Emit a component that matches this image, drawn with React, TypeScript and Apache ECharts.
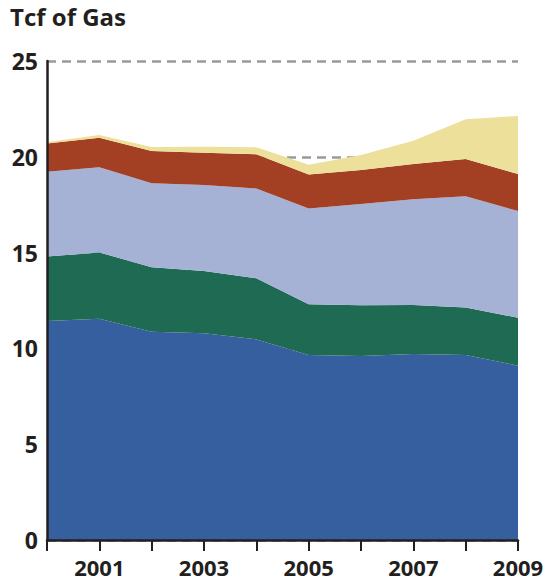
import React, { useEffect, useRef } from "react";
import * as echarts from "echarts";

const years = ["2000", "2001", "2002", "2003", "2004", "2005", "2006", "2007", "2008", "2009"];
const seriesNames = ["Series A", "Series B", "Series C", "Series D", "Series E"];
const seriesA = [11.43, 11.55, 10.87, 10.79, 10.47, 9.66, 9.6, 9.71, 9.66, 9.1];
const seriesB = [3.36, 3.46, 3.36, 3.25, 3.19, 2.64, 2.65, 2.55, 2.48, 2.5];
const seriesC = [4.43, 4.44, 4.39, 4.49, 4.69, 5.0, 5.29, 5.52, 5.8, 5.57];
const seriesD = [1.48, 1.55, 1.68, 1.68, 1.78, 1.77, 1.77, 1.84, 1.95, 1.93];
const seriesE = [0.07, 0.14, 0.21, 0.32, 0.37, 0.52, 0.78, 1.22, 2.07, 3.03];
const colors = ["#365f9f", "#1e6a52", "#a5b2d5", "#a34024", "#ece09a"];
const yTicks = [0, 5, 10, 15, 20, 25];

export default function App() {
  const ref = useRef<HTMLDivElement>(null);
  useEffect(() => {
    if (!ref.current) return;
    const chart = echarts.init(ref.current, null, { renderer: "svg" });
    const data = [seriesA, seriesB, seriesC, seriesD, seriesE];
    const font = "'Open Sans', 'Noto Sans', sans-serif";
    const ink = "#231f20";
    chart.setOption({
      animation: false,
      title: {
        text: "Tcf of Gas",
        left: 10,
        top: 4,
        padding: 0,
        textStyle: { fontFamily: font, fontWeight: "bold", fontSize: 24, color: ink },
      },
      grid: { left: 47, right: 30, top: 61, bottom: 43 },
      xAxis: {
        type: "category",
        data: years,
        boundaryGap: false,
        axisLine: { show: true, lineStyle: { color: ink, width: 2.5 } },
        axisTick: { show: true, interval: 0, length: 11, lineStyle: { color: ink, width: 2 } },
        axisLabel: {
          interval: (i: number) => i % 2 === 1,
          fontFamily: font,
          fontWeight: "bold",
          fontSize: 22,
          lineHeight: 20,
          color: ink,
          margin: 17,
        },
        z: 10,
      },
      yAxis: [
        {
          type: "value",
          min: yTicks[0],
          max: yTicks[yTicks.length - 1],
          interval: 5,
          axisLine: { show: false },
          axisTick: { show: false },
          axisLabel: {
            fontFamily: font,
            fontWeight: "bold",
            fontSize: 23,
            color: ink,
            margin: 9,
          },
          splitLine: { show: true, lineStyle: { color: "#9a9a9a", width: 2.5, type: [9, 6] } },
          z: 0,
        },
        {
          type: "value",
          position: "left",
          min: yTicks[0],
          max: yTicks[yTicks.length - 1],
          interval: 5,
          axisLine: { show: true, onZero: false, lineStyle: { color: ink, width: 2.5 } },
          axisTick: { show: false },
          axisLabel: { show: false },
          splitLine: { show: false },
          z: 10,
        },
      ],
      series: data.map((d, i) => ({
        name: seriesNames[i],
        type: "line",
        stack: "total",
        data: d,
        showSymbol: false,
        symbol: "none",
        lineStyle: { width: 0 },
        areaStyle: { color: colors[i], opacity: 1 },
        itemStyle: { color: colors[i] },
        z: 2,
      })),
    });
    return () => chart.dispose();
  }, []);
  return (
    <div
      ref={ref}
      style={{ position: "absolute", left: 0, top: 0, width: 548, height: 583 }}
    />
  );
}
